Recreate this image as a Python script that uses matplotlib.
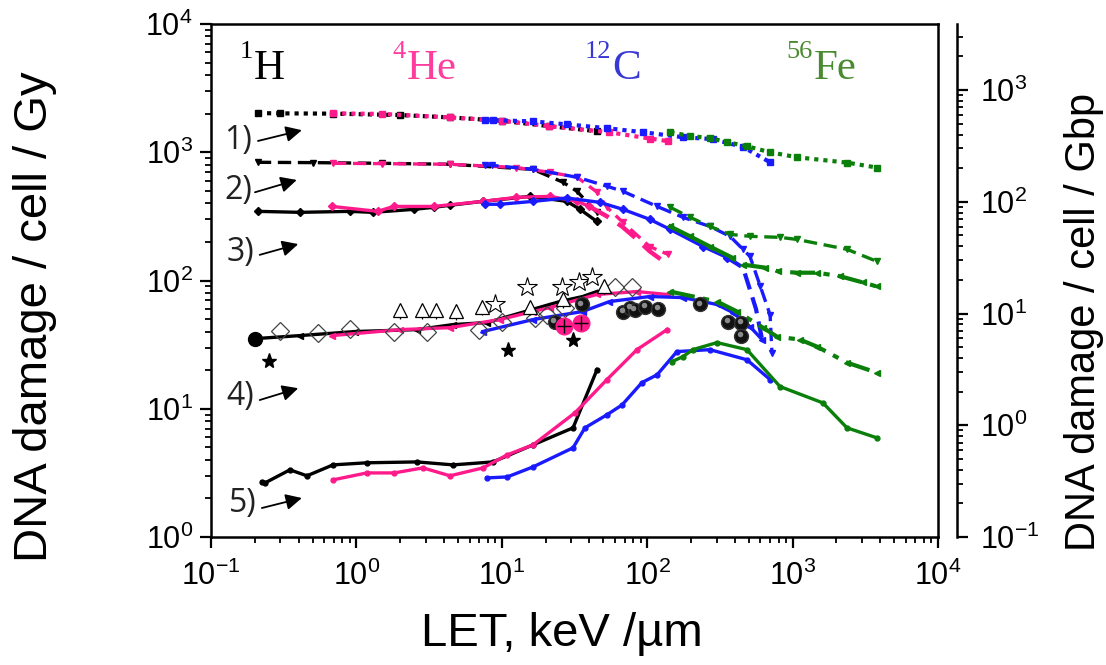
import numpy as np
import matplotlib
matplotlib.use('Agg')
import matplotlib.pyplot as plt
from matplotlib import transforms

plt.rcParams['font.family'] = ['Liberation Sans', 'DejaVu Sans']
plt.rcParams['mathtext.fontset'] = 'custom'
plt.rcParams['mathtext.rm'] = 'Liberation Sans'
plt.rcParams['mathtext.it'] = 'Liberation Sans:italic'
plt.rcParams['mathtext.bf'] = 'Liberation Sans:bold'
plt.rcParams['mathtext.sf'] = 'Liberation Sans'

# ---------------- data (LET keV/um, damage per cell per Gy) ----------------
# 1) dotted
x_H1 = [0.21, 0.3, 0.69, 2.0, 4.4, 10, 21, 45]
y_H1 = [2018, 2010, 2000, 1950, 1870, 1760, 1600, 1460]
x_He1 = [0.69, 1.5, 4.4, 10, 21, 55, 104, 139]
y_He1 = [2010, 1990, 1870, 1760, 1600, 1430, 1280, 1220]
x_C1 = [7.7, 8.7, 16.4, 28, 53, 94, 176, 284, 456, 700]
y_C1 = [1778, 1778, 1740, 1650, 1540, 1432, 1310, 1265, 1100, 835]
x_Fe1 = [144, 197, 270, 354, 485, 700, 1072, 2366, 3800]
y_Fe1 = [1432, 1340, 1290, 1200, 1114, 1000, 914, 830, 760]

# 2) dashed
x_H2 = [0.21, 0.5, 1.5, 4.4, 16.4, 26.4, 32.9, 45]
y_H2 = [835, 830, 820, 806, 736, 583, 496, 340]
x_He2 = [0.69, 1.5, 4.4, 12.6, 21.4, 33, 45, 53, 68, 104, 139]
y_He2 = [820, 815, 806, 760, 698, 638, 490, 372, 284, 184, 160]
x_C2 = [7.7, 8.5, 16.4, 33, 53, 68, 117, 176, 270, 371, 456, 509, 600, 700, 721]
y_C2 = [800, 791, 736, 638, 543, 496, 378, 311, 264, 221, 175, 154, 90, 54, 27.4]
x_Fe2 = [144, 197, 270, 371, 509, 819, 1072, 2366, 3800]
y_Fe2 = [372, 311, 264, 229, 221, 217, 209, 175, 141]

# 3) solid
x_H3 = [0.21, 0.41, 0.9, 1.3, 2.5, 3.4, 4.4, 7.4, 15.6, 28, 34.5, 45]
y_H3 = [346, 340, 346, 340, 359, 372, 386, 414, 453, 414, 359, 289]
x_He3 = [0.68, 1.4, 1.8, 3.4, 7.4, 12.6, 21.4, 33, 40]
y_He3 = [378, 346, 378, 378, 414, 445, 453, 414, 378]
x_He3t = [40, 53, 67, 82, 104, 139]
y_He3t = [378, 316, 264, 217, 169, 133]
x_C3 = [7.7, 9.7, 16.4, 28, 47, 68, 104, 144, 242, 354]
y_C3 = [393, 393, 414, 440, 407, 359, 300, 250, 184, 151]
x_C3t = [354, 456, 560, 617]
y_C3t = [151, 126, 60, 34.6]
x_Fe3 = [144, 197, 270, 383]
y_Fe3 = [264, 221, 184, 151]
x_Fe3t = [456, 646, 794, 1072, 1472, 2118, 3048, 3800]
y_Fe3t = [133, 126, 118, 115, 115, 108, 96.5, 89.8]

# 4) solid
x_H4 = [0.2, 0.41, 0.98, 2.6, 4.6, 7.9, 25, 36, 45]
y_H4 = [35.2, 37.2, 40, 41.4, 45.3, 47, 68.5, 75, 82]
x_He4 = [0.68, 2.0, 4.4, 9.7, 16.4, 21.4, 45, 85, 137]
y_He4 = [37.2, 41.4, 42.9, 49.6, 57.3, 61.5, 77.8, 82, 77.8]
x_C4 = [7.4, 16.4, 36, 55, 104, 176, 302, 389, 509, 617]
y_C4 = [40, 49.6, 57.3, 68.5, 75, 73.6, 65, 56.2, 43.7, 34.6]
x_Fe4 = [144, 302, 415, 625, 781, 1125, 1472, 2366, 3800]
y_Fe4 = [82, 68.5, 57.3, 42.9, 36.5, 34.6, 30.5, 22.9, 19.1]

# 5) solid
x_H5 = [0.224, 0.235, 0.349, 0.457, 0.69, 1.18, 2.61, 4.62, 8.69, 16.4, 30.9, 45.2]
y_H5 = [2.69, 2.64, 3.34, 3.00, 3.65, 3.79, 3.85, 3.65, 3.85, 5.23, 7.1, 20.2]
x_He5 = [0.69, 1.18, 1.82, 2.87, 4.40, 7.43, 10.9, 16.4, 31.9, 52.9, 85, 137]
y_He5 = [2.79, 3.16, 3.16, 3.46, 3.00, 3.46, 4.37, 5.23, 9.31, 16.9, 28.9, 41.4]
x_C5 = [7.91, 10.9, 16.4, 30.9, 37.3, 52.9, 67.1, 92, 117, 160, 270, 485, 700]
y_C5 = [2.89, 2.94, 3.52, 4.96, 7.1, 8.98, 10.7, 16.0, 18.4, 27.9, 28.9, 24.1, 16.9]
x_Fe5 = [148, 176, 206, 302, 485, 819, 1618, 2366, 3800]
y_Fe5 = [23.3, 25.5, 28.9, 32.8, 28.9, 14.9, 11.1, 7.10, 5.93]

# experimental data
x_diam = [0.299, 0.544, 0.904, 1.82, 3.06, 6.97, 10, 16.9, 20.5, 27.2, 60, 78.6]
y_diam = [40.7, 39.2, 42.2, 40, 40, 41.4, 47.8, 51.4, 54.2, 61.5, 88.2, 88.2]
x_tri = [2.0, 2.83, 3.53, 4.84, 7.31, 15.6, 26.4, 50.5]
y_tri = [59.4, 59.4, 59.4, 58.3, 62.6, 62.6, 71.1, 89.8]
e_tri = [9, 9, 9, 9, 9, 9, 10, 12]
x_ostar = [8.98, 14.9, 25.9, 34, 41.7]
y_ostar = [65, 88.2, 88.2, 96.5, 106]
x_bstar = [0.251, 11, 30.9]
y_bstar = [23.7, 28.9, 34.6]
x_sph = [23.2, 35.6, 68.2, 76.2, 82.4, 96.6, 119, 231, 360, 442, 442]
y_sph = [47.8, 65, 57.3, 61.5, 59.4, 62.6, 60.4, 65, 47.8, 47, 37.2]
x_pcirc = [26.8, 35.1]
y_pcirc = [44.5, 47]
x_bcirc = [0.2]
y_bcirc = [35.2]

ions = ['H', 'He', 'C', 'Fe']
ion_mass = ['1', '4', '12', '56']
endpoint_labels = ['1)', '2)', '3)', '4)', '5)']

# ---------------- figure ----------------
BLK, PNK, BLU, GRN = '#000000', '#ff1a8c', '#1a1aff', '#0a7f0a'
TXT = {'H': '#000000', 'He': '#ff3d9e', 'C': '#3838d4', 'Fe': '#4a8a30'}

fig = plt.figure(figsize=(11.06, 6.65), dpi=100)
ax = fig.add_axes([211 / 1106, 1 - 537 / 665, 727 / 1106, 513 / 665])
ax.set_xscale('log')
ax.set_yscale('log')
ax.set_xlim(0.1, 1e4)
ax.set_ylim(1, 1e4)

LW = 2.4
DOT = (0, (1, 1.2))
DASH = (0, (4, 2))
LDASH = (0, (5, 2.5))
DDOT = (0, (6, 2, 1.5, 2))


def line(x, y, c, ls, m, ms, lw=LW):
    ax.plot(x, y, color=c, ls=ls, lw=lw, marker=m, ms=ms, mec=c, mfc=c, zorder=3)


for c, xs, ys in [(BLK, x_H1, y_H1), (PNK, x_He1, y_He1), (BLU, x_C1, y_C1), (GRN, x_Fe1, y_Fe1)]:
    line(xs, ys, c, DOT, 's', 4.5, lw=3)
for c, xs, ys in [(BLK, x_H2, y_H2), (PNK, x_He2, y_He2), (BLU, x_C2, y_C2), (GRN, x_Fe2, y_Fe2)]:
    line(xs, ys, c, DASH, 'v', 5)
line(x_H3, y_H3, BLK, '-', 'D', 4)
line(x_He3, y_He3, PNK, '-', 'D', 4)
line(x_He3t, y_He3t, PNK, LDASH, None, 0, lw=3.2)
line(x_C3, y_C3, BLU, '-', 'D', 4)
line(x_C3t, y_C3t, BLU, DASH, None, 0, lw=3)
line(x_Fe3, y_Fe3, GRN, '-', '<', 4, lw=3)
line(x_Fe3t, y_Fe3t, GRN, DDOT, '<', 5, lw=3)
line(x_H4, y_H4, BLK, '-', '<', 4)
line(x_He4, y_He4, PNK, '-', '<', 4)
line(x_C4, y_C4, BLU, '-', '<', 4)
line(x_Fe4, y_Fe4, GRN, DDOT, '<', 5, lw=3)
line(x_H5, y_H5, BLK, '-', 'o', 3.5)
line(x_He5, y_He5, PNK, '-', 'o', 3.5)
line(x_C5, y_C5, BLU, '-', 'o', 3.5)
line(x_Fe5, y_Fe5, GRN, '-', 'o', 3.5)

# experimental markers
ax.plot(x_bcirc, y_bcirc, ls='none', marker='o', ms=10, mfc='black', mec='black', zorder=4)
ax.plot(x_diam, y_diam, ls='none', marker='D', ms=9, mfc='none', mec='#444444', mew=0.9, zorder=4)
ax.errorbar(x_tri, y_tri, yerr=[e_tri, [0] * len(e_tri)], fmt='^', ms=10, mfc='white', mec='black',
            mew=0.9, ecolor='black', elinewidth=0.9, capsize=0, zorder=4)
ax.plot(x_ostar, y_ostar, ls='none', marker='*', ms=15, mfc='white', mec='black', mew=0.8, zorder=4)
ax.plot(x_bstar, y_bstar, ls='none', marker='*', ms=11, mfc='black', mec='black', zorder=4)
ax.plot(x_sph, y_sph, ls='none', marker='o', ms=10, mfc='#111111', mec='#333333', zorder=5)
hl = ax.transData + transforms.ScaledTranslation(-1.5 / 100, 1.5 / 100, fig.dpi_scale_trans)
ax.plot(x_sph, y_sph, ls='none', marker='o', ms=4, mfc='#8a8a8a', mec='none', transform=hl, zorder=6)
ax.plot(x_pcirc, y_pcirc, ls='none', marker='o', ms=12, mfc=PNK, mec=PNK, zorder=5)
ax.plot(x_pcirc, y_pcirc, ls='none', marker='+', ms=10, mec='black', mew=1, zorder=6)

# axes styling
for s in ax.spines.values():
    s.set_linewidth(1.8)
ax.tick_params(axis='both', which='major', direction='out', length=8, width=1.6, labelsize=22, pad=5,
               top=False, right=False)
ax.tick_params(axis='x', which='major', pad=9)
ax.tick_params(axis='both', which='minor', direction='out', length=4.5, width=1.3, top=False, right=False)
ax.set_xlabel('LET, keV /µm', fontsize=34)
ax.xaxis.set_label_coords(0.482, -0.146)
ax.set_ylabel('DNA damage / cell / Gy', fontsize=34)
ax.yaxis.set_label_coords(-0.212, 0.43)

# right axis (per Gbp)
ax2 = ax.twinx()
ax2.set_yscale('log')
ax2.set_ylim(0.1, 3900)
for k in ['top', 'left', 'bottom']:
    ax2.spines[k].set_visible(False)
ax2.spines['right'].set_position(('outward', 14))
ax2.spines['right'].set_linewidth(1.8)
ax2.tick_params(axis='y', which='major', direction='out', length=8, width=1.6, labelsize=22, pad=8)
ax2.tick_params(axis='y', which='minor', direction='out', length=4.5, width=1.3)
ax2.set_ylabel('DNA damage / cell / Gbp', fontsize=30)
ax2.yaxis.set_label_coords(1.174, 0.42)

# ion labels
ion_pos = [(254, 79), (407, 79), (612, 79), (814, 79)]
for ion, mass, (px, py) in zip(ions, ion_mass, ion_pos):
    fx = px / 1106
    fy = 1 - py / 665
    fig.text(fx, fy, ion, fontsize=31, family='Liberation Serif', color=TXT[ion], ha='left', va='baseline')
    fig.text(fx - 0.001, fy + 0.031, mass, fontsize=19, family='Liberation Serif', color=TXT[ion],
             ha='right', va='baseline')

# endpoint labels with arrows
lab_pos = [(0.037, 0.772), (0.037, 0.676), (0.040, 0.554), (0.040, 0.273), (0.044, 0.066)]
arr_pos = [((0.0646, 0.772), (0.125, 0.793)), ((0.0605, 0.672), (0.118, 0.696)),
           ((0.067, 0.550), (0.120, 0.571)), ((0.067, 0.267), (0.120, 0.290)),
           ((0.070, 0.0565), (0.125, 0.076))]
for lab, (tx, ty), (tail, head) in zip(endpoint_labels, lab_pos, arr_pos):
    ax.text(tx, ty, lab, transform=ax.transAxes, fontsize=23, family=['Open Sans', 'DejaVu Sans'],
            color='#222222', ha='center', va='center')
    ax.annotate('', xy=head, xytext=tail, xycoords='axes fraction', textcoords='axes fraction',
                arrowprops=dict(arrowstyle='-|>', color='black', lw=1.3, mutation_scale=24,
                                shrinkA=0, shrinkB=0))

fig.savefig('out.png', dpi=100)
